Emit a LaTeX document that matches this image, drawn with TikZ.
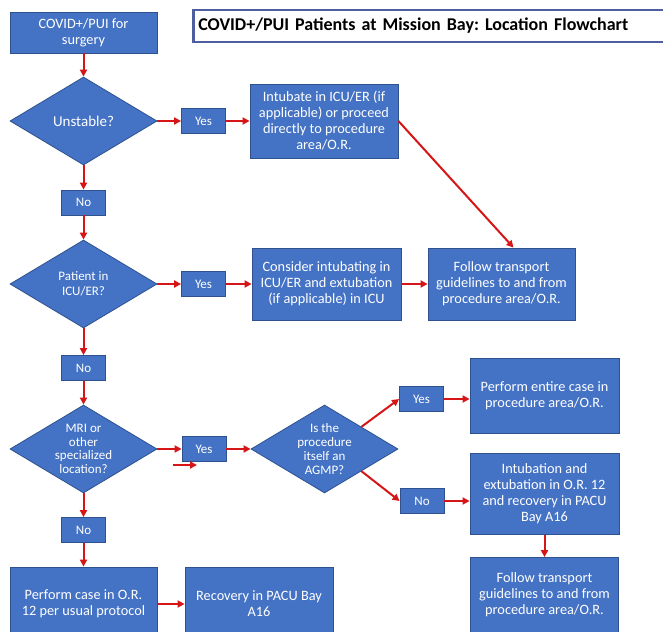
\documentclass[tikz,border=0pt]{standalone}
\usepackage{fontspec}
\setmainfont{Carlito}
\usepackage{xcolor}
\usetikzlibrary{shapes.geometric, arrows.meta}

\definecolor{boxblue}{RGB}{68,114,196}
\definecolor{boxedge}{RGB}{47,82,143}
\definecolor{linkred}{RGB}{214,22,22}
\definecolor{titleedge}{RGB}{78,94,158}

\frenchspacing

\begin{document}
\begin{tikzpicture}[x=1pt, y=-1pt,
		box/.style={rectangle, draw=boxedge, line width=0.8pt, fill=boxblue, text=white, align=center, inner sep=2pt, font=\fontsize{14.3}{16}\selectfont},
		answer/.style={box, minimum width=44pt, minimum height=25pt, font=\fontsize{13}{15}\selectfont},
		choice/.style={diamond, aspect=1.67, draw=boxedge, line width=0.8pt, fill=boxblue, text=white, align=center, inner sep=-5pt, minimum width=147pt, minimum height=88pt, font=\fontsize{13}{13.7}\selectfont},
		titlebox/.style={rectangle, draw=titleedge, line width=2.5pt, fill=white, text width=475pt, inner xsep=5pt, minimum height=32pt, align=left, font=\bfseries\fontsize{18}{21}\selectfont}]
	\useasboundingbox (0,0) rectangle (663,631);
	\clip (0,0) rectangle (663,631);

	\begin{scope}
		\node[titlebox, anchor=west] (title) at (192,26) {COVID+/PUI Patients at Mission Bay: Location Flowchart};

		\node[box, minimum width=147pt, minimum height=41pt] (start) at (83.5,32.5) {COVID+/PUI for\\surgery};
		\node[choice, font=\fontsize{15}{16}\selectfont] (unstable) at (83.5,121) {Unstable?};
		\node[answer] (yes1) at (203.5,121) {Yes};
		\node[box, minimum width=148pt, minimum height=74pt] (intubate) at (324,121) {Intubate in ICU/ER (if\\applicable) or proceed\\directly to procedure\\area/O.R.};
		\node[answer] (no1) at (83.5,202.5) {No};

		\node[choice, font=\fontsize{13}{15}\selectfont] (icu) at (83.5,284) {Patient in\\ICU/ER?};
		\node[answer] (yes2) at (203.5,284) {Yes};
		\node[box, minimum width=149pt, minimum height=72pt] (consider) at (326.5,284) {Consider intubating in\\ICU/ER and extubation\\(if applicable) in ICU};
		\node[box, minimum width=147pt, minimum height=72pt] (follow1) at (501.5,284) {Follow transport\\guidelines to and from\\procedure area/O.R.};
		\node[answer] (no2) at (83.5,368) {No};

		\node[choice] (mri) at (83.5,449) {MRI or\\other\\specialized\\location?};
		\node[answer] (yes3) at (204,449) {Yes};
		\node[choice] (agmp) at (324.5,449) {Is the\\procedure\\itself an\\AGMP?};
		\node[answer] (yes4) at (421.5,399) {Yes};
		\node[box, minimum width=149pt, minimum height=75pt] (entire) at (544.5,396) {Perform entire case in\\procedure area/O.R.};
		\node[answer] (no4) at (422,501) {No};
		\node[box, minimum width=149pt, minimum height=81pt] (intubation) at (544.5,494) {Intubation and\\extubation in O.R. 12\\and recovery in PACU\\Bay A16};
		\node[box, minimum width=148pt, minimum height=75pt] (follow2) at (544.5,595) {Follow transport\\guidelines to and from\\procedure area/O.R.};
		\node[answer] (no3) at (83.5,530) {No};
		\node[box, minimum width=147pt, minimum height=74pt] (perform) at (83.5,604) {Perform case in O.R.\\12 per usual protocol};
		\node[box, minimum width=148pt, minimum height=74pt] (recovery) at (259,604) {Recovery in PACU Bay\\A16};

		\coordinate (stray) at (173,465);
		\coordinate (stray end) at (197,465);
	\end{scope}

	\begin{scope}[-{Triangle[length=7pt, width=7pt]}, linkred, line width=2pt]
		\foreach \a/\b in {start/unstable, unstable/no1, no1/icu, icu/no2, no2/mri, mri/no3, no3/perform, unstable/yes1, yes1/intubate, icu/yes2, yes2/consider, consider/follow1, mri/yes3, yes3/agmp, perform/recovery, intubation/follow2}
		{
			\draw (\a) -- (\b);
		}
		\draw (intubate.east) -- ([xshift=12pt]follow1.north);
		\draw (agmp.north east) -- (yes4.west);
		\draw (agmp.south east) -- (no4.west);
		\draw (yes4) -- (yes4 -| entire.west);
		\draw (no4) -- (no4 -| intubation.west);
		\draw (stray) -- (stray end);
	\end{scope}
\end{tikzpicture}
\end{document}
